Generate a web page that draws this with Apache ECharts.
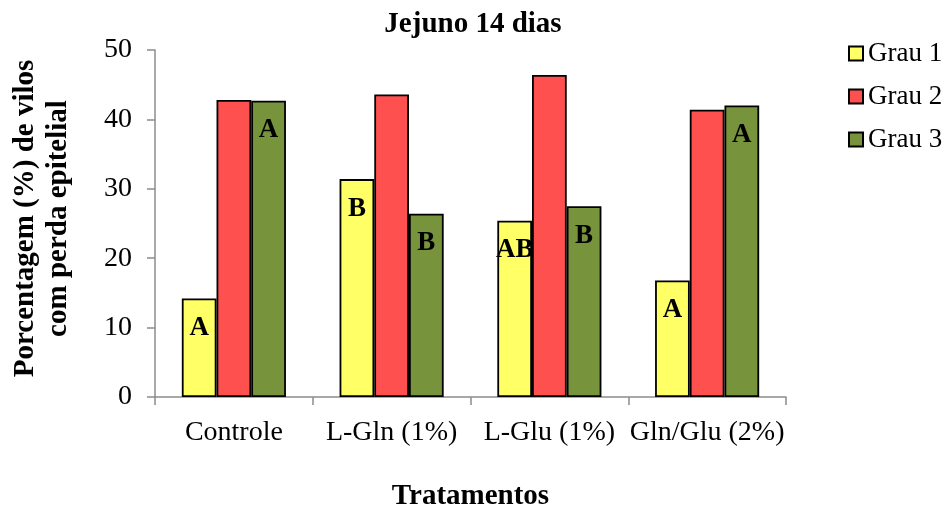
<!DOCTYPE html>
<html>
<head>
<meta charset="utf-8">
<script src="https://cdn.jsdelivr.net/npm/echarts@6/dist/echarts.min.js"></script>
<style>
  html, body { margin: 0; padding: 0; background: #fff; }
  #chart { width: 950px; height: 513px; }
</style>
</head>
<body>
<div id="chart"></div>
<script>
const categories = ['Controle', 'L-Gln (1%)', 'L-Glu (1%)', 'Gln/Glu (2%)']
const grau1 = [14.2, 31.4, 25.4, 16.8]
const grau2 = [42.8, 43.6, 46.4, 41.4]
const grau3 = [42.7, 26.4, 27.5, 42.0]
const letters1 = ['A', 'B', 'AB', 'A']
const letters3 = ['A', 'B', 'B', 'A']

const serif = '"Liberation Serif", "DejaVu Serif", serif'

const chart = echarts.init(document.getElementById('chart'))

const letterLabel = (letters) => ({
  show: true,
  position: 'insideTop',
  distance: 16,
  fontFamily: serif,
  fontWeight: 'bold',
  fontSize: 27,
  color: '#000',
  formatter: p => letters[p.dataIndex]
})

const barSeries = (name, data, color, letters) => ({
  name,
  type: 'bar',
  data,
  barGap: '0%',
  barCategoryGap: '34%',
  itemStyle: { color, borderColor: '#000', borderWidth: 1.8 },
  label: letters ? letterLabel(letters) : { show: false }
})

chart.setOption({
  animation: false,
  backgroundColor: '#fff',
  title: {
    text: 'Jejuno 14 dias',
    left: 468,
    textAlign: 'center',
    top: 5,
    textStyle: { fontFamily: serif, fontWeight: 'bold', fontSize: 29, color: '#000' }
  },
  legend: {
    orient: 'vertical',
    left: 843,
    top: 35,
    itemGap: 16,
    itemWidth: 14,
    itemHeight: 14,
    icon: 'rect',
    textStyle: { fontFamily: serif, fontSize: 27, color: '#000' }
  },
  grid: { left: 155, right: 164, top: 50, bottom: 116, containLabel: false, outerBoundsMode: 'none' },
  xAxis: {
    type: 'category',
    data: categories,
    name: 'Tratamentos',
    nameLocation: 'middle',
    nameGap: 85,
    nameTextStyle: { fontFamily: serif, fontWeight: 'bold', fontSize: 29, color: '#000' },
    axisLine: { lineStyle: { color: '#8c8c8c', width: 1.5 } },
    axisTick: { show: true, length: 8, lineStyle: { color: '#8c8c8c', width: 1.5 } },
    axisLabel: { fontFamily: serif, fontSize: 28, color: '#000', margin: 22, interval: 0 }
  },
  yAxis: {
    type: 'value',
    min: 0,
    max: 50,
    interval: 10,
    name: 'Porcentagem (%) de vilos\ncom perda epitelial',
    nameLocation: 'middle',
    nameGap: 80,
    nameTextStyle: {
      fontFamily: serif, fontWeight: 'bold', fontSize: 29, color: '#000',
      lineHeight: 33, padding: [0, 0, 0, 10]
    },
    axisLine: { show: true, lineStyle: { color: '#8c8c8c', width: 1.5 } },
    axisTick: { show: true, length: 8, lineStyle: { color: '#8c8c8c', width: 1.5 } },
    splitLine: { show: false },
    axisLabel: { fontFamily: serif, fontSize: 28, color: '#000', margin: 23 }
  },
  series: [
    barSeries('Grau 1', grau1, '#ffff66', letters1),
    barSeries('Grau 2', grau2, '#ff5050', null),
    barSeries('Grau 3', grau3, '#77933c', letters3)
  ]
})
</script>
</body>
</html>
